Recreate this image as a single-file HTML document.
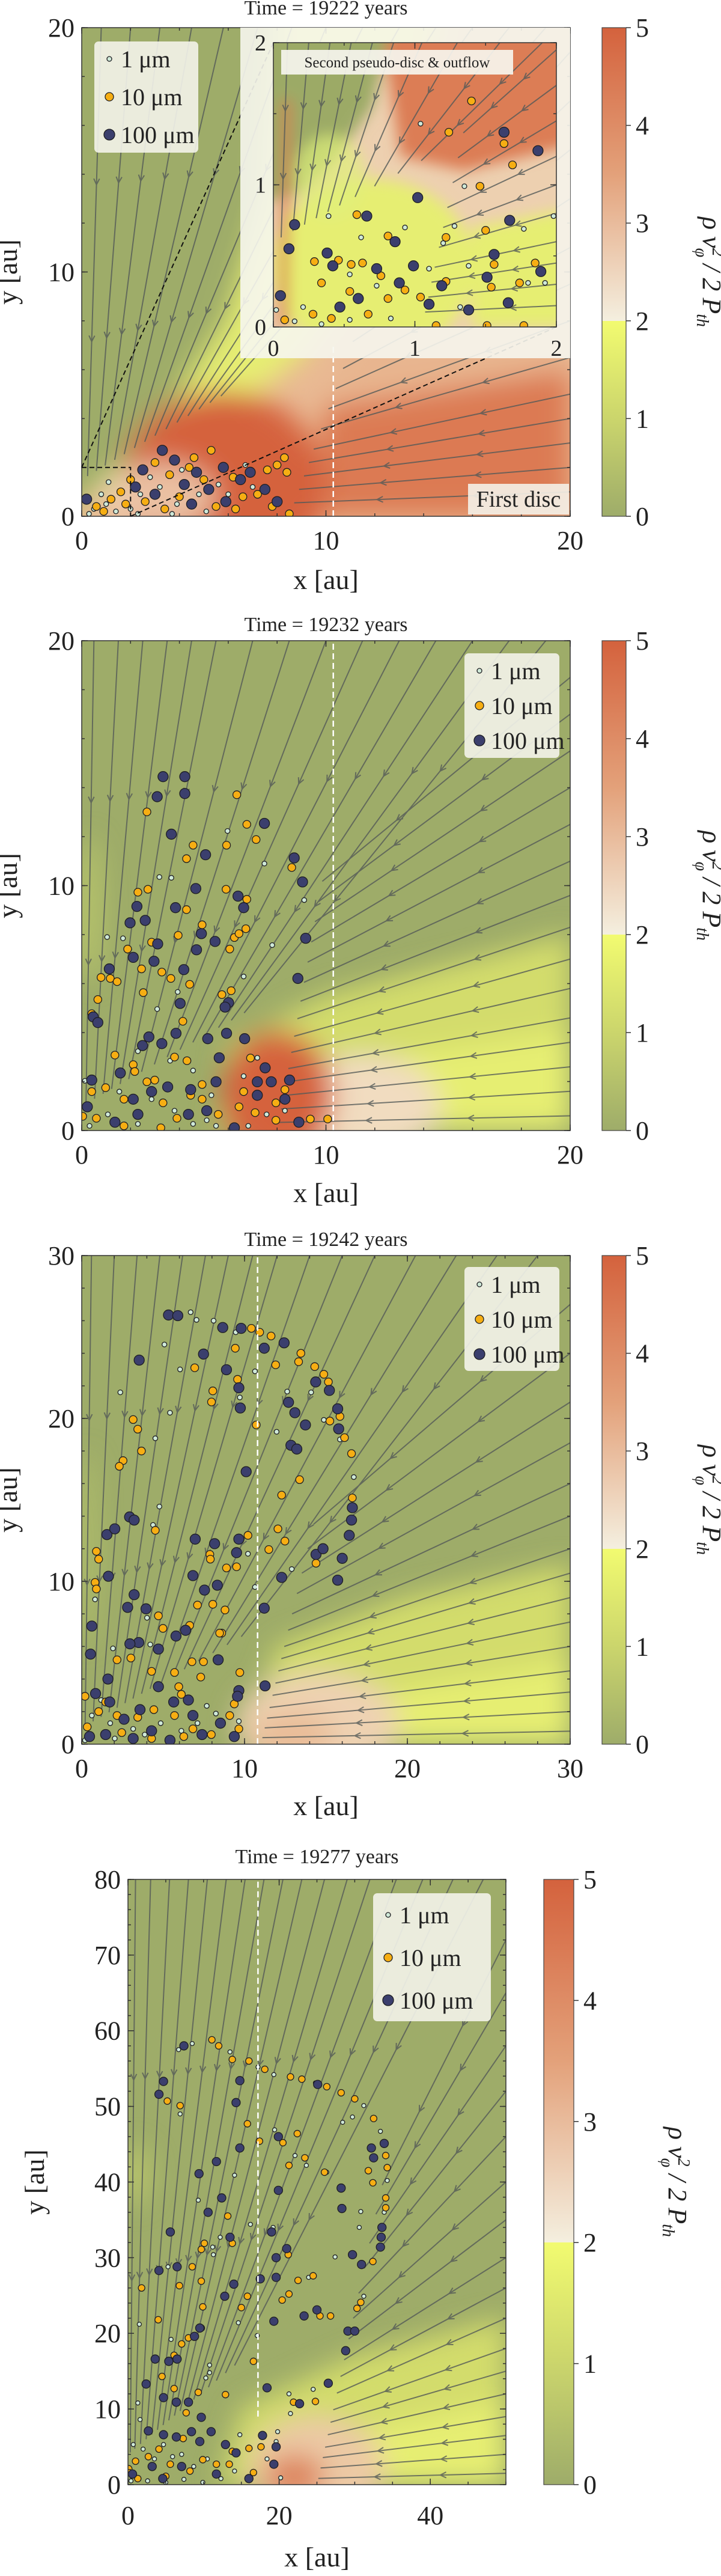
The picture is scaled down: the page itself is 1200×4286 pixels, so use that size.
<!DOCTYPE html>
<html><head><meta charset="utf-8"><title>Dust grains in pseudo-disc</title>
<style>html,body{margin:0;padding:0;background:#fff}svg{display:block}
text{font-family:"Liberation Serif",serif;fill:#222}</style></head>
<body>
<svg id="fig" xmlns="http://www.w3.org/2000/svg" width="1200" height="4286" viewBox="0 0 1200 4286">
<defs>
<filter id="blur1" x="-50%" y="-50%" width="200%" height="200%"><feGaussianBlur stdDeviation="22"/></filter>
<filter id="blur2" x="-50%" y="-50%" width="200%" height="200%"><feGaussianBlur stdDeviation="12"/></filter>
<linearGradient id="cbar" x1="0" y1="0" x2="0" y2="1">
<stop offset="0" stop-color="#d4623d"/><stop offset="0.3" stop-color="#e3a17a"/><stop offset="0.6" stop-color="#f4efdf"/>
<stop offset="0.6" stop-color="#f2fb70"/><stop offset="0.8" stop-color="#cbd56c"/><stop offset="1" stop-color="#9eac6a"/>
</linearGradient>
</defs>
</svg>
<script>
// ---------- data (au) ----------
const p1Big=[[3.3,2.7],[3.8,2.3],[4.7,1.8],[5.8,2.0],[6.5,1.5],[7.5,1.1],[2.5,1.9],[4.2,1.3],[5.2,1.1],[6.9,1.8],[3.0,0.9],[2.2,1.2],[0.2,0.7],[8.0,0.6],[5.9,0.6],[4.5,0.5]];
const p1Mid=[[3.0,2.2],[4.6,2.4],[5.3,2.7],[6.2,1.6],[7.6,1.9],[8.0,2.1],[8.4,1.8],[7.2,0.9],[6.6,0.8],[5.0,1.5],[3.6,1.7],[2.0,1.5],[1.6,1.0],[1.2,0.7],[0.6,0.4],[1.8,0.5],[2.6,0.6],[3.4,0.3],[4.0,0.8],[5.5,0.4],[6.3,0.3],[7.8,0.4],[8.5,0.1],[0.9,0.2],[4.4,2.0],[8.3,2.4]];
const p1Small=[[0.5,0.3],[1.0,0.5],[1.4,0.2],[2.0,0.3],[2.4,0.9],[3.2,1.2],[3.9,0.5],[4.8,0.9],[5.6,1.3],[6.0,0.9],[0.3,0.1],[1.1,1.4],[2.8,1.6],[4.1,1.9],[6.7,2.1],[7.0,1.2],[5.1,0.2],[2.3,0.1],[3.7,0.1],[0.8,0.9]];
const inBig=[[0.15,0.72],[0.11,0.55],[0.38,0.52],[0.42,0.43],[0.66,0.78],[0.86,0.60],[1.02,0.91],[1.63,1.37],[1.87,1.24],[1.67,0.75],[1.56,0.51],[1.51,0.35],[1.89,0.39],[1.19,0.29],[1.10,0.16],[1.38,0.12],[0.89,0.31],[0.73,0.41],[0.60,0.20],[0.47,0.14],[0.05,0.22],[0.99,0.43],[1.66,0.17]];
const inMid=[[0.59,0.79],[0.81,0.64],[1.40,1.59],[1.24,1.37],[1.63,1.29],[1.69,1.14],[1.46,0.99],[1.50,0.68],[1.22,0.63],[0.29,0.46],[0.46,0.47],[0.55,0.44],[0.63,0.45],[0.76,0.36],[0.93,0.26],[1.22,0.32],[1.56,0.44],[1.54,0.28],[1.74,0.31],[1.85,0.45],[0.34,0.31],[0.54,0.25],[0.81,0.20],[1.04,0.21],[0.28,0.09],[0.08,0.05],[1.15,0.01],[1.51,0.01],[1.77,0.01],[0.41,0.06],[0.67,0.09]];
const inSmall=[[1.04,1.43],[1.35,0.99],[1.77,0.69],[1.98,0.78],[0.39,0.78],[0.62,0.63],[0.93,0.70],[1.20,0.59],[1.28,0.71],[1.38,0.43],[1.80,0.31],[1.92,0.31],[1.10,0.41],[0.54,0.37],[0.21,0.14],[0.02,0.12],[0.15,0.04],[0.34,0.02],[0.54,0.05],[0.83,0.06],[1.32,0.14],[0.73,0.29]];
const p2Big=[[3.33,14.45],[4.22,14.45],[4.22,13.76],[3.09,13.63],[3.67,12.10],[7.48,12.54],[5.07,11.26],[8.70,11.13],[9.04,10.15],[9.17,7.85],[8.85,6.21],[2.26,9.15],[1.98,8.48],[2.60,8.58],[2.11,7.07],[3.11,7.62],[2.96,6.91],[3.84,9.10],[4.67,9.88],[4.90,8.04],[5.46,7.72],[4.70,7.38],[4.18,6.57],[6.40,9.57],[6.63,9.10],[6.01,5.22],[5.87,5.04],[4.03,5.19],[1.13,6.60],[0.47,4.64],[0.66,4.41],[2.75,3.82],[3.86,3.97],[5.16,3.75],[5.93,3.97],[6.67,3.75],[5.63,2.97],[7.51,2.56],[1.58,2.35],[2.49,3.47],[3.28,3.55],[3.52,1.78],[4.46,1.67],[5.50,1.99],[7.19,1.99],[7.76,1.99],[8.51,2.06],[8.89,0.34],[7.19,1.44],[8.32,1.28],[2.86,1.59],[0.23,0.97],[1.36,0.34],[2.30,0.66],[5.12,0.81],[6.25,0.11],[4.37,0.66],[2.11,1.28],[0.41,2.06]];
const p2Mid=[[6.35,13.71],[2.67,13.01],[6.76,12.50],[7.14,11.88],[4.56,11.65],[5.93,11.65],[4.29,11.10],[8.60,10.74],[2.30,9.73],[2.71,9.85],[5.91,9.85],[6.76,9.44],[4.29,9.02],[4.93,8.40],[3.95,7.97],[6.25,7.88],[6.44,8.04],[6.72,8.24],[2.86,7.69],[1.88,7.41],[6.06,7.41],[2.45,6.60],[3.28,6.47],[3.65,6.21],[4.42,5.97],[0.79,6.25],[1.17,6.21],[1.45,6.08],[0.66,5.35],[2.52,5.63],[5.74,5.55],[6.12,5.71],[0.41,4.77],[4.14,4.46],[3.80,3.00],[4.31,2.85],[6.91,2.96],[1.36,3.08],[2.11,2.69],[2.17,2.41],[2.67,1.99],[2.99,2.06],[4.93,1.88],[4.46,1.44],[6.63,1.59],[7.10,0.73],[7.95,1.13],[8.32,1.67],[9.36,0.47],[10.07,0.47],[0.41,1.59],[0.98,1.75],[1.73,1.28],[3.33,1.13],[3.90,0.50],[4.93,1.28],[5.59,0.66],[6.44,0.97],[7.95,0.42],[3.24,0.11],[0.04,0.58],[1.73,0.19],[0.60,0.50]];
const p2Small=[[5.97,12.23],[7.48,10.90],[9.11,9.41],[3.18,10.35],[3.67,10.32],[1.69,7.85],[1.04,7.90],[7.80,7.57],[6.63,6.29],[3.93,5.66],[3.09,4.96],[0.13,2.03],[2.30,3.24],[3.62,2.85],[4.56,2.45],[7.19,2.97],[5.31,1.44],[6.63,2.22],[1.54,1.59],[2.86,1.28],[3.80,0.81],[4.56,0.27],[5.50,0.19],[1.07,0.66],[0.32,0.19],[2.30,0.27],[7.57,0.66],[6.82,0.19],[8.32,0.81],[5.12,0.42]];
const p3Big=[[5.33,26.35],[5.90,26.31],[9.79,25.53],[8.66,25.58],[3.53,23.58],[7.48,23.95],[8.89,22.99],[9.65,21.88],[9.74,20.64],[11.21,24.31],[12.43,24.64],[12.70,20.99],[13.09,20.35],[13.74,19.60],[12.85,18.35],[13.21,18.12],[14.37,22.24],[15.21,21.72],[15.72,20.59],[15.78,19.36],[10.10,16.73],[1.55,12.87],[2.03,13.22],[2.94,13.95],[3.22,13.76],[6.97,12.59],[8.16,12.31],[9.65,12.59],[9.51,11.76],[1.64,10.31],[2.82,8.40],[3.22,9.18],[3.95,8.31],[6.83,10.35],[8.33,9.76],[7.54,9.46],[5.79,6.64],[6.38,6.99],[4.71,5.84],[3.50,6.24],[2.96,6.16],[0.62,7.25],[0.54,5.53],[1.61,4.00],[11.21,8.35],[12.28,10.24],[14.39,11.65],[14.82,12.00],[16.00,11.41],[15.72,10.07],[16.62,14.52],[16.57,13.76],[16.43,12.82],[11.26,3.58],[9.65,3.29],[9.57,2.94],[8.38,5.18],[4.71,3.53],[5.65,2.59],[6.55,2.71],[3.58,2.12],[0.85,3.11],[1.72,2.59],[2.60,1.53],[4.29,0.82],[5.42,0.24],[7.39,0.59],[8.52,1.29],[9.37,0.47],[1.47,0.59],[0.48,0.47],[3.16,0.35],[6.83,1.76]];
const p3Mid=[[3.16,19.93],[3.44,19.34],[3.67,18.00],[2.54,17.41],[2.31,17.06],[4.52,13.13],[6.94,23.11],[8.05,21.69],[7.97,21.01],[9.57,22.40],[9.43,24.31],[10.42,25.53],[10.93,25.29],[11.63,25.06],[11.91,23.29],[13.46,24.00],[13.32,23.48],[14.31,23.18],[14.87,22.71],[15.15,22.24],[15.86,20.12],[15.24,19.84],[16.14,18.82],[16.57,17.84],[10.72,19.60],[13.38,16.24],[12.28,15.29],[16.62,15.12],[12.05,13.22],[12.48,12.47],[11.49,11.95],[10.21,12.82],[14.39,11.11],[7.87,11.65],[7.90,11.36],[8.89,10.82],[9.51,10.89],[0.82,9.93],[0.90,9.53],[0.90,11.84],[1.04,11.36],[4.71,7.88],[4.99,7.11],[6.63,7.29],[7.11,8.54],[8.05,8.59],[8.60,6.82],[8.80,8.24],[8.47,6.82],[2.17,5.18],[3.02,5.29],[4.29,4.47],[5.70,4.40],[6.77,5.06],[7.48,5.06],[9.71,4.40],[7.31,4.12],[5.96,3.53],[6.12,3.06],[0.20,2.94],[1.47,2.59],[2.17,1.76],[3.44,1.65],[4.43,2.12],[5.70,1.76],[6.83,0.94],[7.96,0.59],[9.37,2.47],[9.09,1.76],[9.65,0.94],[0.34,1.06],[2.46,0.71],[4.29,0.35],[6.27,0.47],[1.04,2.00]];
const p3Small=[[6.69,26.52],[7.05,26.05],[8.10,26.00],[9.46,25.29],[5.08,24.54],[6.04,23.01],[10.64,22.89],[9.71,21.29],[11.97,19.18],[12.62,21.65],[14.09,21.60],[14.87,19.91],[15.86,18.71],[16.71,16.40],[4.52,18.78],[5.42,20.35],[2.37,21.60],[4.77,14.59],[4.38,13.46],[0.82,8.89],[1.92,5.88],[4.21,6.12],[10.64,9.65],[12.90,10.75],[10.21,11.69],[4.01,7.76],[7.68,2.35],[8.24,1.88],[9.65,1.41],[0.62,1.76],[1.75,1.29],[3.16,0.94],[4.85,1.29],[7.11,1.29],[0.20,0.24],[2.03,0.35],[3.87,0.59],[6.12,0.82],[1.19,2.71]];
const p4Big=[[7.4,58.0],[4.7,53.3],[4.1,51.6],[14.8,53.4],[14.3,50.5],[25.1,52.9],[32.2,44.5],[32.5,43.2],[19.9,46.0],[14.8,44.5],[11.7,42.7],[9.4,41.1],[19.9,38.9],[28.2,39.2],[28.3,36.5],[12.4,37.9],[10.6,36.0],[5.6,33.4],[6.5,28.8],[4.1,28.3],[13.5,32.7],[19.0,33.4],[21.0,31.2],[19.6,30.0],[29.7,30.4],[30.9,29.1],[17.5,27.2],[19.6,27.4],[14.0,26.5],[12.8,24.9],[19.3,21.6],[23.3,22.3],[25.0,23.1],[29.1,20.3],[30.0,20.3],[28.8,17.7],[3.6,16.6],[5.4,16.3],[6.5,16.6],[8.8,19.6],[9.5,20.7],[2.4,13.3],[4.7,11.5],[6.4,10.9],[8.0,10.9],[9.7,8.9],[2.7,7.1],[4.7,6.6],[6.4,6.3],[8.4,7.0],[11.0,7.0],[9.5,5.7],[12.9,5.3],[14.3,4.2],[18.4,12.8],[22.7,10.7],[26.5,13.4],[17.8,6.5],[19.6,5.0],[19.3,2.7],[0.6,1.4],[3.2,2.4],[7.1,2.4],[11.7,1.4],[16.0,0.8],[4.6,0.8],[33.6,34.0],[33.5,32.7],[33.4,31.4],[33.9,45.1]];
const p4Mid=[[11.1,58.8],[12.0,58.0],[13.8,56.2],[16.0,56.0],[18.1,54.9],[21.5,53.9],[23.0,53.6],[26.3,52.6],[28.2,51.8],[30.0,51.0],[32.5,48.4],[34.1,43.5],[34.3,41.9],[34.1,37.9],[1.8,26.0],[4.0,21.8],[5.2,50.7],[6.9,50.1],[15.8,47.7],[17.4,45.4],[20.5,45.2],[22.4,46.4],[23.4,43.2],[21.3,42.2],[26.0,41.3],[31.8,41.5],[32.4,39.9],[34.1,36.6],[13.2,35.5],[13.8,31.9],[10.1,31.9],[9.7,31.1],[8.5,28.8],[6.8,26.3],[9.7,26.9],[21.2,30.4],[24.5,27.6],[22.5,27.0],[21.3,25.2],[20.4,24.4],[15.8,24.9],[15.0,23.4],[25.4,22.3],[26.8,22.3],[30.8,24.1],[30.3,23.3],[32.4,29.5],[9.9,23.5],[9.7,20.7],[8.0,19.4],[7.1,18.6],[6.1,17.1],[4.5,14.3],[6.1,12.7],[9.3,12.2],[16.6,16.3],[12.9,11.9],[21.9,10.9],[24.8,11.0],[7.7,9.5],[7.3,6.1],[9.9,3.3],[13.8,4.4],[16.0,4.8],[17.6,5.0],[13.4,2.7],[16.6,1.6],[1.0,3.1],[2.7,3.7],[4.1,4.7],[5.6,2.7],[5.0,1.1],[8.2,1.8],[11.7,2.7],[1.3,0.8],[0.1,2.1]];
const p4Small=[[13.5,57.2],[17.2,55.2],[19.3,54.2],[24.8,53.1],[31.2,50.1],[33.4,46.7],[34.3,40.2],[33.9,36.0],[6.7,57.5],[8.5,58.3],[6.9,49.0],[28.4,47.9],[29.7,48.6],[19.4,46.9],[22.1,43.5],[23.6,42.2],[26.3,41.3],[14.1,40.9],[9.3,37.6],[30.8,36.1],[30.6,34.0],[16.2,34.4],[19.2,34.0],[11.2,31.4],[11.3,30.4],[12.2,32.7],[5.3,28.8],[27.4,30.1],[23.9,27.4],[31.2,24.9],[1.5,21.2],[5.7,19.2],[10.8,15.8],[10.8,14.8],[10.3,14.1],[21.3,12.0],[21.5,9.4],[24.5,12.6],[17.1,19.7],[14.6,21.4],[1.3,10.8],[1.6,8.6],[19.8,7.0],[19.6,5.7],[18.4,3.4],[14.8,6.6],[0.7,5.3],[2.0,4.7],[3.5,3.4],[4.7,5.3],[5.9,3.7],[7.1,4.0],[8.7,2.4],[10.5,3.4],[12.3,0.8],[14.1,1.8],[0.4,0.5],[2.6,0.5],[5.0,0.3],[7.4,0.7],[9.9,0.3],[20.2,0.9]];
const times=["19222","19232","19242","19277"];
const cbTicks=[0,1,2,3,4,5];
const legendLabels=["1 μm","10 μm","100 μm"];

// ---------- helpers ----------
const NS="http://www.w3.org/2000/svg";
const svg=document.getElementById('fig');
function mk(tag,attrs,parent){const e=document.createElementNS(NS,tag);for(const k in attrs)e.setAttribute(k,attrs[k]);(parent||svg).appendChild(e);return e;}
function txt(s,x,y,size,parent,anchor,extra){const t=mk('text',Object.assign({x:x,y:y,'font-size':size,'text-anchor':anchor||'middle'},extra||{}),parent);t.textContent=s;return t;}
let clipId=0;
function makeAxes(c){
  const sx=x=>c.L+x/c.xmax*(c.R-c.L), sy=y=>c.B-y/c.ymax*(c.B-c.T);
  const g=mk('g',{});
  
  
  const id='clip'+(clipId++);
  const cp=mk('clipPath',{id:id},g);mk('rect',{x:c.L,y:c.T,width:c.R-c.L,height:c.B-c.T},cp);
  const inner=mk('g',{'clip-path':'url(#'+id+')'},g);
  return {sx,sy,g,inner,c};
}
function poly(ax,pts,fill,parent,op){const d=pts.map(p=>ax.sx(p[0])+','+ax.sy(p[1])).join(' ');return mk('polygon',{points:d,fill:fill,opacity:op==null?1:op},parent);}
function ell(ax,cx,cy,rx,ry,fill,parent,op){return mk('ellipse',{cx:ax.sx(cx),cy:ax.sy(cy),rx:Math.abs(ax.sx(rx)-ax.sx(0)),ry:Math.abs(ax.sy(0)-ax.sy(ry)),fill:fill,opacity:op==null?1:op},parent);}
function streams(ax,tops,rights,endTop,endRight){
  const sg=mk('g',{stroke:'#545a58','stroke-width':2,fill:'none',opacity:0.8},ax.inner);
  
  
  const lines=[];
  tops.forEach(x=>lines.push([[x,ax.c.ymax],endTop(x)]));
  rights.forEach(y=>lines.push([[ax.c.xmax,y],endRight(y)]));
  lines.forEach(l=>{
    const x1=ax.sx(l[0][0]),y1=ax.sy(l[0][1]),x2=ax.sx(l[1][0]),y2=ax.sy(l[1][1]);
    mk('line',{x1:x1,y1:y1,x2:x2,y2:y2},sg);
    const dx=x2-x1,dy=y2-y1,len=Math.hypot(dx,dy),ux=dx/len,uy=dy/len;
    [0.35,0.7].forEach(t=>{
      const px=x1+dx*t,py=y1+dy*t,a=0.45,L=11;
      const bx=-ux,by=-uy;
      const c=Math.cos(a),s=Math.sin(a);
      mk('polyline',{points:(px+L*(bx*c-by*s))+','+(py+L*(bx*s+by*c))+' '+px+','+py+' '+(px+L*(bx*c+by*s))+','+(py+L*(-bx*s+by*c))},sg);
    });
  });
}
function scatter(ax,arr,kind,r,parent){
  const fills={s:'#cfe9d8',m:'#f6ae13',b:'#3b3f6d'};
  const sg=mk('g',{},parent||ax.inner);
  
  
  arr.forEach(p=>mk('circle',{cx:ax.sx(p[0]),cy:ax.sy(p[1]),r:r,fill:fills[kind],stroke:'#1e1e22','stroke-width':1.3},sg));
}
function frame(ax,xt,yt,xminor,yminor,fs,xtOff){
  const c=ax.c,g=ax.g;
  mk('rect',{x:c.L,y:c.T,width:c.R-c.L,height:c.B-c.T,fill:'none',stroke:'#333','stroke-width':1.5},g);
  const tg=mk('g',{stroke:'#333','stroke-width':1.5},g);
  xminor.forEach(v=>{const x=ax.sx(v);mk('line',{x1:x,y1:c.B,x2:x,y2:c.B-5},tg);mk('line',{x1:x,y1:c.T,x2:x,y2:c.T+5},tg);});
  yminor.forEach(v=>{const y=ax.sy(v);mk('line',{x1:c.L,y1:y,x2:c.L+5,y2:y},tg);mk('line',{x1:c.R,y1:y,x2:c.R-5,y2:y},tg);});
  xt.forEach(v=>{const x=ax.sx(v);mk('line',{x1:x,y1:c.B,x2:x,y2:c.B-10},tg);mk('line',{x1:x,y1:c.T,x2:x,y2:c.T+10},tg);
    const t=txt(String(v),x,c.B+xtOff,fs,g);});
  yt.forEach(v=>{const y=ax.sy(v);mk('line',{x1:c.L,y1:y,x2:c.L+10,y2:y},tg);mk('line',{x1:c.R,y1:y,x2:c.R-10,y2:y},tg);
    const t=txt(String(v),c.L-12,y+fs*0.34,fs,g,'end');});
}
function colorbar(x0,x1,T,B,labelX){
  const g=mk('g',{});
  
  
  mk('rect',{x:x0,y:T,width:x1-x0,height:B-T,fill:'url(#cbar)',stroke:'#444','stroke-width':1.2},g);
  cbTicks.forEach(v=>{const y=B-v/5*(B-T);mk('line',{x1:x1,y1:y,x2:x1+8,y2:y,stroke:'#333','stroke-width':1.5},g);
    const t=txt(String(v),x1+16,y+15,44,g,'start');});
  const cy=(T+B)/2;
  const t=mk('text',{x:labelX,y:cy,'font-size':44,'text-anchor':'middle','font-style':'italic',transform:'rotate(90 '+labelX+' '+cy+')'},g);
  
  
  t.innerHTML='ρ v<tspan font-size="28" dy="-16">2</tspan><tspan font-size="28" dx="-14" dy="28">φ</tspan><tspan dy="-12"> / 2 P</tspan><tspan font-size="28" dy="10">th</tspan>';
}
function legend(x,y,w,h,fs,gap,first){
  const g=mk('g',{});
  
  
  mk('rect',{x:x,y:y,width:w,height:h,rx:7,fill:'#f3f3ea',opacity:0.9},g);
  const cols=['#cfe9d8','#f6ae13','#3b3f6d'],rs=[4,7,9];
  legendLabels.forEach((l,i)=>{
    const e=mk('g',{},g);
    
    
    const cy=y+first+i*gap;
    mk('circle',{cx:x+25,cy:cy,r:rs[i],fill:cols[i],stroke:'#1e1e22','stroke-width':1.3},e);
    txt(l,x+44,cy+fs*0.35,fs,e,'start');});
}
function dashedV(ax,xv,y0,y1){mk('line',{x1:ax.sx(xv),y1:ax.sy(y0),x2:ax.sx(xv),y2:ax.sy(y1),stroke:'#fff','stroke-width':2.5,'stroke-dasharray':'10,6'},ax.inner);}
function titles(ax,time,titleY,xlabY,ylabX){
  const c=ax.c,cx=(c.L+c.R)/2,cy=(c.T+c.B)/2;
  const t=txt('Time = '+time+' years',cx,titleY,34,ax.g);
  const xl=txt('x [au]',cx,xlabY,46,ax.g);
  const yl=mk('text',{x:ylabX,y:cy,'font-size':46,'text-anchor':'middle',transform:'rotate(-90 '+ylabX+' '+cy+')'},ax.g);yl.textContent='y [au]';
  
}
const rng=(a,b,s)=>{const o=[];for(let v=a;v<=b+1e-9;v+=s)o.push(+v.toFixed(3));return o;};
const G='#9eac69',Y='#e6ee72',R='#d5623d';

// ---------- Panel 1 ----------
(function(){
  const ax=makeAxes({name:'panel-1',L:136,R:949,T:46,B:859,xmax:20,ymax:20});
  const bg=mk('g',{},ax.inner);
  mk('rect',{x:136,y:46,width:813,height:813,fill:'#e9b993'},bg);
  const bl=mk('g',{filter:'url(#blur1)'},bg);
  poly(ax,[[9.5,0],[20,0],[20,6],[10,4.8]],'#dc7a52',bl);
  poly(ax,[[10,4.5],[20,6],[20,10],[11,7]],'#e8b58f',bl);
  poly(ax,[[-2,-1],[-2,22],[15,22],[13,12],[9,6.5],[6,4.2],[2,2]],Y,bl);
  poly(ax,[[-2,-1],[-2,22],[8,22],[7.5,13],[6,8],[3,3.5],[1,1.5]],G,bl);
  ell(ax,5.8,1.2,4.2,3.9,R,bl);
  ell(ax,3.2,0.8,2.3,1.4,'#efd8bb',bl,0.8);
  streams(ax,[0.8,2,3.2,4.5,5.8,7.2,8.6,10,11.5,13,14.5,16,17.5,19],[1,2,3,4,5,6.5,8,9.5,11,13,15,17,19],
    x=>[x*0.3,1.5+x*0.18],y=>[8.5+y*0.2,y*0.55]);
  scatter(ax,p1Small,'s',4);scatter(ax,p1Mid,'m',6.5);scatter(ax,p1Big,'b',8.5);
  dashedV(ax,10.3,0,7);
  frame(ax,[0,10,20],[0,10,20],rng(0,20,2),rng(0,20,2),44,55);
  titles(ax,times[0],24,980,28);
  const dz=mk('g',{stroke:'#111','stroke-width':2,'stroke-dasharray':'8,5',fill:'none'},ax.g);
  
  
  mk('polyline',{points:ax.sx(0)+','+ax.sy(2)+' '+ax.sx(2)+','+ax.sy(2)+' '+ax.sx(2)+','+ax.sy(0)},dz);
  mk('line',{x1:ax.sx(0),y1:ax.sy(2),x2:455,y2:71},dz);
  mk('line',{x1:ax.sx(2),y1:ax.sy(0),x2:926,y2:544},dz);
  legend(157,69,173,185,40,63,29);
  const fd=mk('g',{},ax.g);
  mk('rect',{x:779,y:805,width:168,height:51,fill:'#f4f1e8',opacity:0.9},fd);
  txt('First disc',863,843,38,fd);
  const ib=mk('rect',{x:400,y:46,width:549,height:550,fill:'#f6f6ee',opacity:0.9},ax.g);
  
  const inx=makeAxes({name:'inset-panel',L:455,R:926,T:71,B:544,xmax:2,ymax:2});
  const ibg=mk('g',{},inx.inner);
  mk('rect',{x:455,y:71,width:471,height:473,fill:'#edd0b0'},ibg);
  const ibl=mk('g',{filter:'url(#blur2)'},ibg);
  poly(inx,[[0.75,2.2],[2.2,2.2],[2.2,1.3],[1.35,1.1],[0.9,1.2]],'#dc7d55',ibl);
  poly(inx,[[1.4,0],[2.2,0],[2.2,0.85],[1.4,0.7]],Y,ibl);
  ell(inx,0.7,0.42,0.72,0.62,Y,ibl);
  poly(inx,[[-0.2,2.2],[0.85,2.2],[0.7,1.55],[0.45,1.2],[0.2,0.95],[-0.2,0.85]],'#9caa66',ibl);
  ell(inx,0.4,1.05,0.25,0.3,'#dff07a',ibl,0.7);
  poly(inx,[[0.04,0],[0.1,0],[0.12,1.6],[0.07,1.6]],'#d8714a',ibl);
  streams(inx,[0.1,0.25,0.4,0.55,0.7,0.85,1.05,1.3,1.6,1.9],[0.15,0.3,0.45,0.6,0.8,1.0,1.2,1.45,1.7,1.95],
    x=>[x*0.55,0.6+x*0.3],y=>[1.05+y*0.15,y*0.7]);
  scatter(inx,inSmall,'s',4);scatter(inx,inMid,'m',6.5);scatter(inx,inBig,'b',8.5);
  frame(inx,[0,1,2],[0,1,2],rng(0,2,0.5),rng(0,2,0.5),38,48);
  const sl=mk('g',{},inx.g);
  mk('rect',{x:468,y:83,width:386,height:41,fill:'#f6f5ee',opacity:0.92},sl);
  txt('Second pseudo-disc & outflow',661,112,25,sl);
  colorbar(1002,1042,46,859,1170);
})();

// ---------- Panel 2 ----------
(function(){
  const ax=makeAxes({name:'panel-2',L:136,R:949,T:1066,B:1881,xmax:20,ymax:20});
  const bg=mk('g',{},ax.inner);
  mk('rect',{x:136,y:1066,width:813,height:815,fill:G},bg);
  const bl=mk('g',{filter:'url(#blur1)'},bg);
  poly(ax,[[5.5,0],[6,3.5],[10,5.5],[20,8],[20,0]],'#d3dc6c',bl);
  poly(ax,[[9,0],[12,3],[20,4],[20,0]],Y,bl);
  ell(ax,11.5,1,3.2,2.1,'#f1dcc0',bl);
  ell(ax,8,1.4,2.3,2.7,R,bl);
  ell(ax,0.3,9,0.5,3,'#c5d06c',bl,0.7);
  streams(ax,[0.5,1.5,2.5,3.5,4.5,5.5,7,8.5,10,11.5,13,14.5,16,17.5,19],[0.6,1.6,2.6,3.6,4.6,5.8,7,8.3,9.6,11,12.5,14,15.5,17,18.5],
    x=>[x*0.35,1+x*0.2],y=>[8+y*0.1,y*0.55]);
  scatter(ax,p2Small,'s',4);scatter(ax,p2Mid,'m',6.5);scatter(ax,p2Big,'b',8.5);
  dashedV(ax,10.3,0,20);
  frame(ax,[0,10,20],[0,10,20],rng(0,20,2),rng(0,20,2),44,55);
  titles(ax,times[1],1050,2000,28);
  legend(773,1087,158,174,40,58,29);
  colorbar(1002,1042,1066,1881,1170);
})();

// ---------- Panel 3 ----------
(function(){
  const ax=makeAxes({name:'panel-3',L:136,R:949,T:2089,B:2902,xmax:30,ymax:30});
  const bg=mk('g',{},ax.inner);
  mk('rect',{x:136,y:2089,width:813,height:813,fill:G},bg);
  const bl=mk('g',{filter:'url(#blur1)'},bg);
  poly(ax,[[10,0],[12,6],[20,9],[30,11],[30,0]],'#d3dc6c',bl);
  poly(ax,[[14,0],[18,3],[30,5],[30,0]],Y,bl);
  ell(ax,14.5,1.2,5,3.2,'#eed2b2',bl);
  ell(ax,13,0.5,2.5,1.5,'#e7b690',bl,0.8);
  ell(ax,0.3,12,0.5,6,'#c5d06c',bl,0.6);
  streams(ax,[0.6,2,3.4,4.8,6.2,7.6,9,10.5,12,14,16,18,20.5,23,25.5,28],[0.8,2,3.2,4.5,6,7.5,9,10.5,12,14,16,18.5,21,24,27],
    x=>[x*0.35,1+x*0.2],y=>[11+y*0.12,y*0.5]);
  scatter(ax,p3Small,'s',4);scatter(ax,p3Mid,'m',6.5);scatter(ax,p3Big,'b',8.5);
  dashedV(ax,10.8,0,30);
  frame(ax,[0,10,20,30],[0,10,20,30],rng(0,30,2),rng(0,30,2),44,55);
  titles(ax,times[2],2073,3020,28);
  legend(773,2108,158,173,40,58,29);
  colorbar(1002,1042,2089,2902,1170);
})();

// ---------- Panel 4 ----------
(function(){
  const ax=makeAxes({name:'panel-4',L:213,R:842,T:3127,B:4134,xmax:50,ymax:80});
  const bg=mk('g',{},ax.inner);
  mk('rect',{x:213,y:3127,width:629,height:1007,fill:G},bg);
  const bl=mk('g',{filter:'url(#blur1)'},bg);
  poly(ax,[[12,0],[15,10],[30,17],[50,22],[50,0]],'#d3dc6c',bl);
  poly(ax,[[18,0],[25,6],[50,11],[50,0]],Y,bl);
  ell(ax,25,2,9,7,'#ecc9a5',bl);
  ell(ax,22,1,4,3,'#dc7c55',bl,0.9);
  ell(ax,1,41,2,4,'#c9d36e',bl,0.6);
  streams(ax,[1,3,5.5,8,10.5,13,15.5,18,20.5,23,26,29,32,35.5,39,43,47],[1.5,4,6.5,9,12,15,18,22,26,30,35,40,46,52,58,65,72],
    x=>[x*0.3,4+x*0.25],y=>[25+y*0.12,y*0.55]);
  scatter(ax,p4Small,'s',3.5);scatter(ax,p4Mid,'m',5.5);scatter(ax,p4Big,'b',7);
  dashedV(ax,17.2,9,80);
  frame(ax,[0,20,40],[0,10,20,30,40,50,60,70,80],rng(0,50,5),rng(0,80,2),44,66);
  titles(ax,times[3],3100,4270,73);
  legend(621,3150,196,213,40,71,36);
  colorbar(905,955,3127,4134,1113);
})();
</script>
</body></html>
